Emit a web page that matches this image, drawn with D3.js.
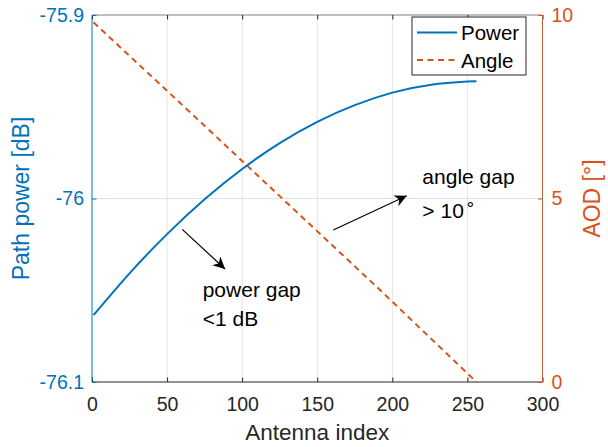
<!DOCTYPE html>
<html>
<head>
<meta charset="utf-8">
<script src="https://cdn.jsdelivr.net/npm/d3@7"></script>
<style>
  html, body { margin: 0; padding: 0; background: #fff; }
  svg { display: block; font-family: "Liberation Sans", Arial, Helvetica, sans-serif; }
</style>
</head>
<body>
<svg id="chart" width="608" height="447"></svg>
<script>
// Path power (left axis) per antenna index
const antennaIdx = [1, 25, 50, 75, 100, 125, 150, 175, 200, 225, 250, 256];
const pathPower  = [-76.0636, -76.0408, -76.0194, -76.0004, -75.9839, -75.9698, -75.9582, -75.9491, -75.9423, -75.9381, -75.9363, -75.9362];

// Angle of departure (right axis) per antenna index
const angleIdx = [1, 64, 128, 192, 256];
const aodDeg   = [9.8, 7.4, 4.95, 2.5, 0];

// Axis ticks
const xTicks = [0, 50, 100, 150, 200, 250, 300];
const leftTicks = [-76.1, -76, -75.9];
const leftTickLabels = ["-76.1", "-76", "-75.9"];
const rightTicks = [0, 5, 10];

const BLUE = "#0072BD", ORANGE = "#D95319", DARK = "#262626";

const svg = d3.select("#chart");
const L = 92, R = 542.5, T = 15, B = 382;

const x  = d3.scaleLinear().domain([0, 300]).range([L, R]);
const yL = d3.scaleLinear().domain([-76.1, -75.9]).range([B, T]);
const yR = d3.scaleLinear().domain([0, 10]).range([B, T]);

// grid
const grid = svg.append("g");
grid.selectAll("line.vg").data(xTicks.slice(1, -1)).join("line")
  .attr("x1", d => x(d)).attr("x2", d => x(d))
  .attr("y1", T).attr("y2", B)
  .attr("stroke", "#e3e3e3").attr("stroke-width", 1);
grid.selectAll("line.hg").data([-76]).join("line")
  .attr("x1", L).attr("x2", R)
  .attr("y1", d => yL(d)).attr("y2", d => yL(d))
  .attr("stroke", "#d6e8f5").attr("stroke-width", 1);

// series
const powerLine = d3.line().x((d, i) => x(antennaIdx[i])).y(d => yL(d)).curve(d3.curveNatural);
const angleLine = d3.line().x((d, i) => x(angleIdx[i])).y(d => yR(d));

svg.append("path").datum(aodDeg)
  .attr("d", angleLine).attr("fill", "none")
  .attr("stroke", ORANGE).attr("stroke-width", 2)
  .attr("stroke-dasharray", "6,4.5");

svg.append("path").datum(pathPower)
  .attr("d", powerLine).attr("fill", "none")
  .attr("stroke", BLUE).attr("stroke-width", 2);

// axes
const tickLen = 4.5;
const styleAxis = (g, color, fs) => {
  g.select(".domain").remove();
  g.selectAll(".tick line").attr("stroke", color);
  g.selectAll(".tick text").attr("fill", color).style("font-size", fs + "px")
    .style("font-family", '"Liberation Sans", Arial, sans-serif');
};

// top box line
svg.append("line").attr("x1", L).attr("x2", R).attr("y1", T).attr("y2", T)
  .attr("stroke", "#808080").attr("stroke-width", 1);
const gTop = svg.append("g").attr("transform", `translate(0,${T})`)
  .call(d3.axisTop(x).tickValues(xTicks).tickSizeInner(-tickLen).tickSizeOuter(0).tickFormat(""));
styleAxis(gTop, DARK, 18);

const gBottom = svg.append("g").attr("transform", `translate(0,${B})`)
  .call(d3.axisBottom(x).tickValues(xTicks).tickSizeInner(-tickLen).tickSizeOuter(0).tickPadding(15));
styleAxis(gBottom, DARK, 19.5);
svg.append("line").attr("x1", L).attr("x2", R).attr("y1", B).attr("y2", B)
  .attr("stroke", DARK).attr("stroke-width", 1);

const gLeft = svg.append("g").attr("transform", `translate(${L},0)`)
  .call(d3.axisLeft(yL).tickValues(leftTicks).tickSizeInner(-tickLen).tickSizeOuter(0).tickPadding(8)
    .tickFormat((d, i) => leftTickLabels[i]));
styleAxis(gLeft, BLUE, 19.5);
svg.append("line").attr("x1", L).attr("x2", L).attr("y1", T).attr("y2", B)
  .attr("stroke", BLUE).attr("stroke-width", 1);

const gRight = svg.append("g").attr("transform", `translate(${R},0)`)
  .call(d3.axisRight(yR).tickValues(rightTicks).tickSizeInner(-tickLen).tickSizeOuter(0).tickPadding(9));
styleAxis(gRight, ORANGE, 19.5);
svg.append("line").attr("x1", R).attr("x2", R).attr("y1", T).attr("y2", B)
  .attr("stroke", "#b8603a").attr("stroke-width", 1);

// axis titles
svg.append("text").attr("x", (L + R) / 2).attr("y", 440)
  .attr("text-anchor", "middle").attr("fill", DARK).style("font-size", "22.5px")
  .text("Antenna index");
svg.append("text").attr("transform", `translate(29,${(T + B) / 2}) rotate(-90)`)
  .attr("text-anchor", "middle").attr("fill", BLUE).style("font-size", "23px")
  .text("Path power [dB]");
svg.append("text").attr("transform", `translate(600,${(T + B) / 2}) rotate(-90)`)
  .attr("text-anchor", "middle").attr("fill", ORANGE).style("font-size", "23px")
  .text("AOD [°]");

// legend
const leg = svg.append("g");
leg.append("rect").attr("x", 412).attr("y", 17).attr("width", 114).attr("height", 58)
  .attr("fill", "#fff").attr("stroke", DARK).attr("stroke-width", 1);
const legendItems = [
  { label: "Power", color: BLUE, dash: null, y: 32.5 },
  { label: "Angle", color: ORANGE, dash: "6,4.5", y: 60 }
];
legendItems.forEach(it => {
  leg.append("line").attr("x1", 417).attr("x2", 457).attr("y1", it.y).attr("y2", it.y)
    .attr("stroke", it.color).attr("stroke-width", 2).attr("stroke-dasharray", it.dash);
  leg.append("text").attr("x", 461).attr("y", it.y + 7.5).attr("fill", "#000")
    .style("font-size", "20.5px").text(it.label);
});

// annotations
svg.append("defs").append("marker").attr("id", "head")
  .attr("viewBox", "0 0 10 10").attr("refX", 10).attr("refY", 5)
  .attr("markerWidth", 12).attr("markerHeight", 12).attr("markerUnits", "userSpaceOnUse")
  .attr("orient", "auto")
  .append("path").attr("d", "M0,0 L10,5 L0,10 L3,5 Z").attr("fill", "#000");

const arrows = [
  { x1: 60.1, y1: -76.0168, x2: 88.6, y2: -76.0384 },
  { x1: 160.7, y1: -76.0172, x2: 209.6, y2: -75.9985 }
];
svg.selectAll("line.arrow").data(arrows).join("line")
  .attr("x1", d => x(d.x1)).attr("y1", d => yL(d.y1))
  .attr("x2", d => x(d.x2)).attr("y2", d => yL(d.y2))
  .attr("stroke", "#000").attr("stroke-width", 1.2)
  .attr("marker-end", "url(#head)");

const notes = svg.append("g").attr("fill", "#000").style("font-size", "21px");
notes.append("text").attr("x", x(73.7)).attr("y", yL(-76.0535)).text("power gap");
notes.append("text").attr("x", x(73.7)).attr("y", yL(-76.0693)).text("<1 dB");
notes.append("text").attr("x", x(220)).attr("y", yL(-75.9921)).text("angle gap");
const t4 = notes.append("text").attr("x", x(220)).attr("y", yL(-76.0105));
t4.append("tspan").text("> 10");
t4.append("tspan").attr("dy", -9).attr("dx", 1).style("font-size", "17px").text("∘");
</script>
</body>
</html>
